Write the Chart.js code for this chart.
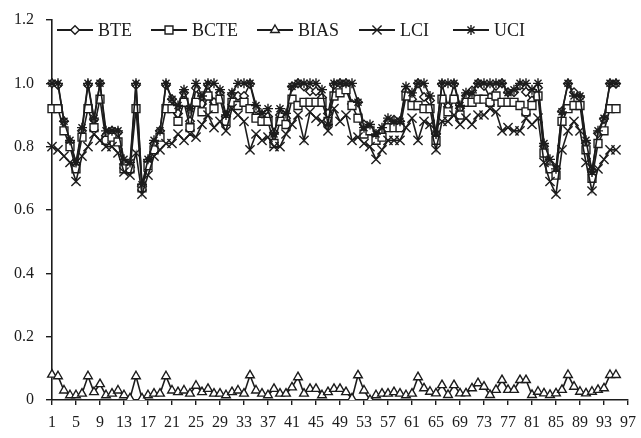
<!DOCTYPE html>
<html>
<head>
<meta charset="utf-8">
<script src="https://cdn.jsdelivr.net/npm/chart.js@4/dist/chart.umd.min.js"></script>
<style>
  html, body { margin: 0; padding: 0; background: #fff; }
  #wrap { width: 641px; height: 438px; position: relative; }
</style>
</head>
<body>
<div id="wrap"><canvas id="c" width="641" height="438"></canvas></div>
<script>
// ---- data ----
const categories = [1,2,3,4,5,6,7,8,9,10,11,12,13,14,15,16,17,18,19,20,21,22,23,24,25,26,27,28,29,30,
  31,32,33,34,35,36,37,38,39,40,41,42,43,44,45,46,47,48,49,50,51,52,53,54,55,56,57,58,59,60,
  61,62,63,64,65,66,67,68,69,70,71,72,73,74,75,76,77,78,79,80,81,82,83,84,85,86,87,88,89,90,
  91,92,93,94,95,96,97];
const xTickLabels = [1,5,9,13,17,21,25,29,33,37,41,45,49,53,57,61,65,69,73,77,81,85,89,93,97];
const yTickValues = [0,0.2,0.4,0.6,0.8,1.0,1.2];

const BTE = [1.00,0.995,0.88,0.815,0.745,0.85,0.995,0.885,1.00,0.835,
 0.85,0.845,0.745,0.735,0.995,0.675,0.755,0.81,0.85,0.995,
 0.95,0.905,0.97,0.88,0.985,0.935,0.995,0.94,0.97,0.895,
 0.965,0.96,0.96,0.998,0.92,0.90,0.895,0.845,0.90,0.89,
 0.99,1.00,0.99,0.975,0.975,0.955,0.905,0.995,1.00,1.00,
 0.935,0.94,0.87,0.85,0.835,0.85,0.88,0.885,0.88,0.975,
 0.95,1.00,0.957,0.946,0.841,0.997,0.926,0.997,0.921,0.961,
 0.977,1.00,0.992,0.956,0.992,1.00,0.972,0.972,0.993,0.973,
 0.946,0.986,0.801,0.746,0.731,0.912,0.999,0.972,0.956,0.811,
 0.726,0.842,0.887,0.999,0.999];

const BCTE = [0.92,0.92,0.85,0.80,0.73,0.83,0.92,0.86,0.95,0.82,
 0.83,0.815,0.73,0.73,0.92,0.67,0.74,0.79,0.83,0.92,
 0.92,0.88,0.94,0.86,0.94,0.91,0.96,0.92,0.95,0.88,
 0.94,0.93,0.94,0.92,0.89,0.88,0.88,0.81,0.88,0.87,
 0.95,0.93,0.94,0.94,0.94,0.94,0.88,0.96,0.97,0.98,
 0.93,0.89,0.84,0.85,0.82,0.83,0.86,0.86,0.86,0.96,
 0.93,0.93,0.92,0.92,0.82,0.95,0.91,0.95,0.90,0.94,
 0.94,0.95,0.95,0.94,0.96,0.94,0.94,0.94,0.93,0.91,
 0.93,0.96,0.78,0.73,0.71,0.88,0.92,0.93,0.93,0.79,
 0.70,0.81,0.85,0.92,0.92];

const BIAS = [0.080,0.075,0.030,0.015,0.015,0.020,0.075,0.025,0.050,0.015,
 0.020,0.030,0.015,0.005,0.075,0.005,0.015,0.020,0.020,0.075,
 0.030,0.025,0.030,0.020,0.045,0.025,0.035,0.020,0.020,0.015,
 0.025,0.030,0.020,0.078,0.030,0.020,0.015,0.035,0.020,0.020,
 0.040,0.072,0.020,0.035,0.035,0.015,0.025,0.035,0.035,0.025,
 0.005,0.078,0.030,0.000,0.015,0.020,0.020,0.025,0.020,0.015,
 0.020,0.072,0.037,0.026,0.021,0.047,0.016,0.047,0.021,0.021,
 0.037,0.053,0.042,0.016,0.032,0.063,0.032,0.032,0.063,0.063,
 0.016,0.026,0.021,0.016,0.021,0.032,0.079,0.042,0.026,0.021,
 0.026,0.032,0.037,0.079,0.079];

const LCI = [0.80,0.79,0.77,0.75,0.69,0.77,0.80,0.84,0.82,0.80,
 0.80,0.78,0.72,0.71,0.78,0.65,0.71,0.77,0.79,0.81,
 0.81,0.84,0.82,0.84,0.83,0.87,0.90,0.86,0.88,0.85,
 0.92,0.90,0.88,0.79,0.84,0.82,0.83,0.80,0.80,0.84,
 0.87,0.90,0.82,0.91,0.89,0.88,0.85,0.92,0.88,0.90,
 0.82,0.83,0.81,0.80,0.76,0.79,0.82,0.82,0.82,0.86,
 0.89,0.82,0.88,0.87,0.79,0.88,0.88,0.90,0.87,0.89,
 0.87,0.90,0.90,0.92,0.91,0.85,0.86,0.85,0.85,0.89,
 0.87,0.89,0.75,0.69,0.65,0.79,0.85,0.88,0.85,0.75,
 0.66,0.73,0.76,0.79,0.79];

const UCI = [1.00,1.00,0.88,0.82,0.75,0.86,1.00,0.89,1.00,0.85,
 0.85,0.85,0.76,0.75,1.00,0.68,0.76,0.82,0.85,1.00,
 0.95,0.93,0.98,0.92,1.00,0.96,1.00,1.00,0.98,0.90,
 0.97,1.00,1.00,1.00,0.93,0.905,0.92,0.84,0.92,0.905,
 0.99,1.00,1.00,1.00,1.00,0.98,0.87,1.00,1.00,1.00,
 1.00,0.94,0.86,0.87,0.84,0.86,0.89,0.88,0.88,0.99,
 0.97,1.00,1.00,0.96,0.84,1.00,1.00,1.00,0.93,0.97,
 0.97,1.00,1.00,1.00,1.00,1.00,0.97,0.98,1.00,1.00,
 0.98,1.00,0.81,0.76,0.73,0.91,1.00,0.96,0.96,0.82,
 0.72,0.85,0.89,1.00,1.00];

const seriesNames = ['BTE','BCTE','BIAS','LCI','UCI'];

// ---- styles ----
const INK = '#1c1c1c';
const FONT = "'Liberation Serif', 'Times New Roman', serif";
const markers = {
  BTE:  { pointStyle: 'rectRot',  radius: 4.3 },
  BCTE: { pointStyle: 'rect',     radius: 5.6 },
  BIAS: { pointStyle: 'triangle', radius: 5.0 },
  LCI:  { pointStyle: 'crossRot', radius: 6.5 },
  UCI:  { pointStyle: 'star',     radius: 5.0 }
};
const drawOrder = { BTE: 5, BCTE: 4, BIAS: 3, LCI: 2, UCI: 1 };
const seriesData = { BTE, BCTE, BIAS, LCI, UCI };

const datasets = seriesNames.map(name => ({
  label: name,
  data: seriesData[name],
  order: drawOrder[name],
  borderColor: INK,
  borderWidth: 1.6,
  backgroundColor: '#ffffff',
  pointBackgroundColor: '#ffffff',
  pointBorderColor: INK,
  pointBorderWidth: 1.4,
  pointStyle: markers[name].pointStyle,
  pointRadius: markers[name].radius,
  pointHoverRadius: markers[name].radius,
  tension: 0,
  fill: false
}));

// custom legend drawn inside the plot area
const legendLayout = { y: 30, starts: [57, 151, 257, 359, 453], lineLen: 36, textGap: 5 };
const legendPlugin = {
  id: 'innerLegend',
  afterDraw(chart) {
    const ctx = chart.ctx;
    ctx.save();
    ctx.font = "18px " + FONT;
    ctx.textBaseline = 'middle';
    ctx.textAlign = 'left';
    seriesNames.forEach((name, i) => {
      const x0 = legendLayout.starts[i];
      const y = legendLayout.y;
      ctx.strokeStyle = INK;
      ctx.lineWidth = 1.8;
      ctx.beginPath();
      ctx.moveTo(x0, y);
      ctx.lineTo(x0 + legendLayout.lineLen, y);
      ctx.stroke();
      ctx.fillStyle = '#ffffff';
      ctx.strokeStyle = INK;
      ctx.lineWidth = 1.4;
      Chart.helpers.drawPoint(ctx, {
        pointStyle: markers[name].pointStyle,
        radius: markers[name].radius,
        rotation: 0,
        borderWidth: 1.4
      }, x0 + legendLayout.lineLen / 2, y);
      ctx.fillStyle = INK;
      ctx.fillText(name, x0 + legendLayout.lineLen + legendLayout.textGap, y + 1);
    });
    ctx.restore();
  }
};

new Chart(document.getElementById('c'), {
  type: 'line',
  data: { labels: categories.map(String), datasets },
  options: {
    responsive: false,
    animation: false,
    devicePixelRatio: 1,
    layout: { padding: { top: 20, right: 13, bottom: 0, left: 0 } },
    plugins: { legend: { display: false }, tooltip: { enabled: false } },
    scales: {
      x: {
        type: 'category',
        offset: false,
        afterFit: s => { s.height = 38; s.paddingLeft = 0; s.paddingRight = 0; },
        grid: {
          drawOnChartArea: false,
          drawTicks: true,
          tickLength: 5,
          lineWidth: 1.4,
          color: c => (xTickLabels.includes(Number(categories[c.index])) ? INK : 'rgba(0,0,0,0)')
        },
        border: { color: INK, width: 1.6 },
        ticks: {
          autoSkip: false,
          maxRotation: 0,
          minRotation: 0,
          padding: 8,
          color: INK,
          font: { family: FONT, size: 16 },
          callback: function(value, index) {
            const lab = categories[index];
            return xTickLabels.includes(lab) ? String(lab) : '';
          }
        }
      },
      y: {
        min: 0,
        max: 1.2,
        afterFit: s => { s.width = 52; s.paddingTop = 0; s.paddingBottom = 0; },
        afterBuildTicks: axis => { axis.ticks = yTickValues.map(v => ({ value: v })); },
        grid: { drawOnChartArea: false, drawTicks: true, tickLength: 6, lineWidth: 1.4, color: INK },
        border: { color: INK, width: 1.6 },
        ticks: {
          padding: 12,
          color: INK,
          font: { family: FONT, size: 16 },
          callback: v => (v === 0 ? '0' : Number(v).toFixed(1))
        }
      }
    }
  },
  plugins: [legendPlugin]
});
</script>
</body>
</html>
